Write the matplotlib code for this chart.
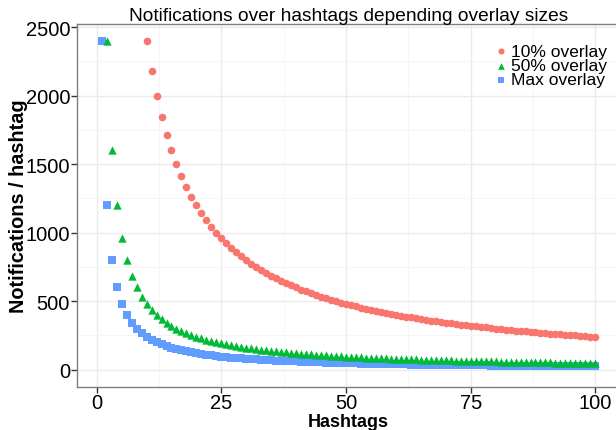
import numpy as np
import matplotlib.pyplot as plt

plt.rcParams['font.family'] = ['Liberation Sans', 'DejaVu Sans']

# Notificaciones por hashtag segun el tamano del overlay
x_10 = np.arange(10, 101)
y_10 = [2400, 2182, 2000, 1846, 1714, 1600, 1500, 1412, 1333, 1263,
        1200, 1143, 1091, 1043, 1000, 960, 923, 889, 857, 828,
        800, 774, 750, 727, 706, 686, 667, 649, 632, 615,
        600, 585, 571, 558, 545, 533, 522, 511, 500, 490,
        480, 471, 462, 453, 444, 436, 429, 421, 414, 407,
        400, 393, 387, 381, 375, 369, 364, 358, 353, 348,
        343, 338, 333, 329, 324, 320, 316, 312, 308, 304,
        300, 296, 293, 289, 286, 282, 279, 276, 273, 270,
        267, 264, 261, 258, 255, 253, 250, 247, 245, 242, 240]

x_50 = np.arange(2, 101)
y_50 = [2400, 1600, 1200, 960, 800, 686, 600, 533, 480,
        436, 400, 369, 343, 320, 300, 282, 267, 253, 240,
        229, 218, 209, 200, 192, 185, 178, 171, 166, 160,
        155, 150, 145, 141, 137, 133, 130, 126, 123, 120,
        117, 114, 112, 109, 107, 104, 102, 100, 98, 96,
        94, 92, 91, 89, 87, 86, 84, 83, 81, 80,
        79, 77, 76, 75, 74, 73, 72, 71, 70, 69,
        68, 67, 66, 65, 64, 63, 62, 62, 61, 60,
        59, 59, 58, 57, 56, 56, 55, 55, 54, 53,
        53, 52, 52, 51, 51, 50, 49, 49, 48, 48]

x_max = np.arange(1, 101)
y_max = [2400, 1200, 800, 600, 480, 400, 343, 300, 267, 240,
         218, 200, 185, 171, 160, 150, 141, 133, 126, 120,
         114, 109, 104, 100, 96, 92, 89, 86, 83, 80,
         77, 75, 73, 71, 69, 67, 65, 63, 62, 60,
         59, 57, 56, 55, 53, 52, 51, 50, 49, 48,
         47, 46, 45, 44, 44, 43, 42, 41, 41, 40,
         39, 39, 38, 38, 37, 36, 36, 35, 35, 34,
         34, 33, 33, 32, 32, 32, 31, 31, 30, 30,
         30, 29, 29, 29, 28, 28, 28, 27, 27, 27,
         26, 26, 26, 26, 25, 25, 25, 24, 24, 24]

fig = plt.figure(figsize=(6.16, 4.31), dpi=100)
ax = fig.add_axes([0.125, 0.0998, 0.8815, 0.8422])

h_max = ax.scatter(x_max, y_max, marker='s', s=28, color='#619CFF', linewidths=0, label='Max overlay', zorder=3)
h_50 = ax.scatter(x_50, y_50, marker='^', s=36, color='#00BA38', linewidths=0, label='50% overlay', zorder=3)
h_10 = ax.scatter(x_10, y_10, marker='o', s=30, color='#F8766D', linewidths=0, label='10% overlay', zorder=3)

ax.set_xlim(-3.95, 104.95)
ax.set_ylim(-126, 2522)
ax.set_xticks([0, 25, 50, 75, 100])
ax.set_yticks([0, 500, 1000, 1500, 2000, 2500])
ax.set_xticks([12.5, 37.5, 62.5, 87.5], minor=True)
ax.set_yticks([250, 750, 1250, 1750, 2250], minor=True)
ax.grid(True, which='major', color='#ebebeb', linewidth=1.0, zorder=0)
ax.grid(True, which='minor', color='#f5f5f5', linewidth=0.7, zorder=0)
ax.set_axisbelow(True)
ax.tick_params(which='major', length=4, width=1, color='#333333', labelsize=14.5, labelcolor='black', pad=1)
ax.tick_params(axis='x', which='major', pad=0)
ax.tick_params(which='minor', length=0)
for s in ax.spines.values():
    s.set_color('#7f7f7f')
    s.set_linewidth(1.0)

ax.set_title('Notifications over hashtags depending overlay sizes', fontsize=13.8, pad=3)
ax.set_xlabel('Hashtags', fontsize=13, fontweight='bold', labelpad=1)
ax.set_ylabel('Notifications / hashtag', fontsize=14.3, fontweight='bold', labelpad=-2)

ax.legend(handles=[h_10, h_50, h_max], loc='upper left', bbox_to_anchor=(0.752, 0.965),
          frameon=False, fontsize=12.5, handletextpad=0.1, labelspacing=-0.05,
          borderaxespad=0, handlelength=1.0, scatterpoints=1, markerscale=0.8)

fig.savefig('out.png', dpi=100)
